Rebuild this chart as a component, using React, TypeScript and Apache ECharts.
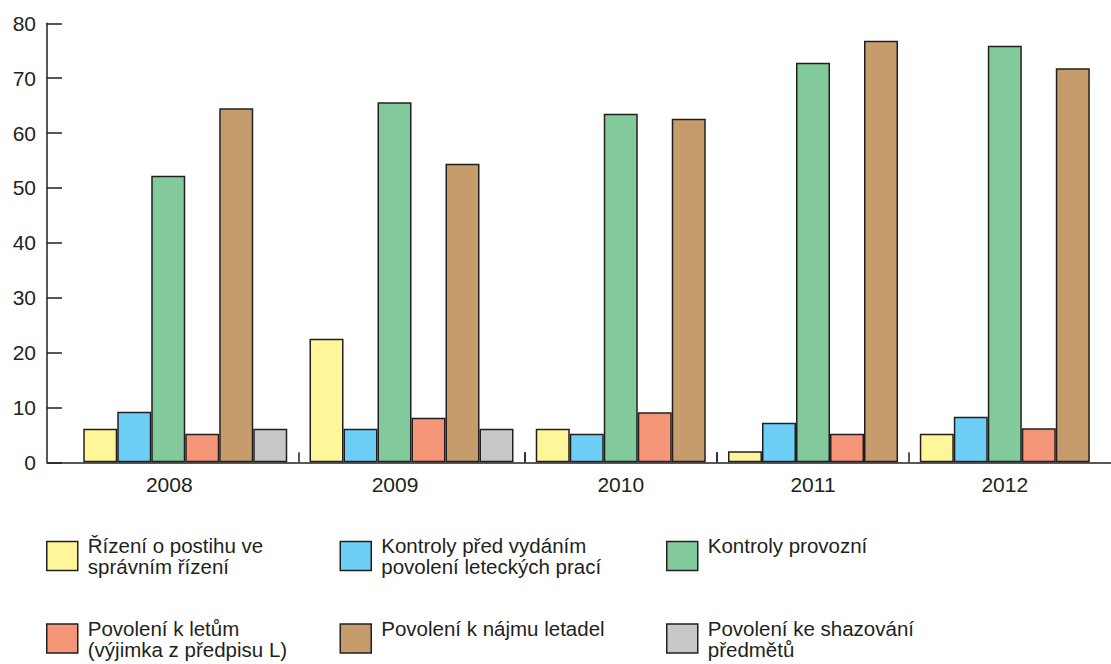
import React, { useEffect, useRef } from "react";
import * as echarts from "echarts";

const years = ["2008", "2009", "2010", "2011", "2012"];
const yTicks = [0, 10, 20, 30, 40, 50, 60, 70, 80];

const rizeniPostih = [6.1, 22.5, 6.1, 2.0, 5.2];
const kontrolyPred = [9.2, 6.1, 5.2, 7.2, 8.3];
const kontrolyProvozni = [52.2, 65.6, 63.5, 72.8, 75.9];
const povoleniLetum = [5.2, 8.1, 9.1, 5.2, 6.2];
const povoleniNajmu = [64.5, 54.4, 62.6, 76.8, 71.8];
const povoleniShazovani: (number | null)[] = [6.1, 6.1, null, null, null];

const seriesNames = [
  "Řízení o postihu ve správním řízení",
  "Kontroly před vydáním povolení leteckých prací",
  "Kontroly provozní",
  "Povolení k letům (výjimka z předpisu L)",
  "Povolení k nájmu letadel",
  "Povolení ke shazování předmětů",
];
const legendLabels = [
  "Řízení o postihu ve\nsprávním řízení",
  "Kontroly před vydáním\npovolení leteckých prací",
  "Kontroly provozní\n",
  "Povolení k letům\n(výjimka z předpisu L)",
  "Povolení k nájmu letadel\n",
  "Povolení ke shazování\npředmětů",
];
const seriesData: (number | null)[][] = [
  rizeniPostih,
  kontrolyPred,
  kontrolyProvozni,
  povoleniLetum,
  povoleniNajmu,
  povoleniShazovani,
];
const colors = ["#FFF599", "#6DCFF6", "#82CA9C", "#F69679", "#C69C6D", "#C7C8CA"];

const INK = "#231F20";
const FONT = 'Arial, "Liberation Sans", Helvetica, sans-serif';

export default function App() {
  const ref = useRef<HTMLDivElement>(null);

  useEffect(() => {
    if (!ref.current) return;
    const chart = echarts.init(ref.current, undefined, { renderer: "svg" });

    const top = 23.3;
    const bottom = 201.7;
    const yearLayout = [
      { left: 72, width: 226.5, ticks: false, shift: 32 },
      { left: 298.5, width: 226, ticks: true, shift: 33 },
      { left: 524.5, width: 192.5, ticks: true, shift: 0 },
      { left: 717, width: 192, ticks: true, shift: 0 },
      { left: 909, width: 191.6, ticks: false, shift: 0 },
    ];

    const grids: any[] = [{ left: 47, right: 0, top, bottom }];
    const xAxes: any[] = [
      {
        type: "category",
        gridIndex: 0,
        data: [""],
        axisLine: { show: true, lineStyle: { color: INK, width: 1.5 } },
        axisTick: { show: false },
        axisLabel: { show: false },
      },
    ];
    const yAxes: any[] = [
      {
        type: "value",
        gridIndex: 0,
        min: yTicks[0],
        max: yTicks[yTicks.length - 1],
        interval: 10,
        splitLine: { show: false },
        axisLine: { show: true, lineStyle: { color: INK, width: 1.5 } },
        axisTick: { show: true, inside: true, length: 15, lineStyle: { color: INK, width: 1.5 } },
        axisLabel: { color: INK, fontSize: 21, fontFamily: FONT, margin: 11 },
      },
    ];
    const series: any[] = [];

    years.forEach((yr, i) => {
      const L = yearLayout[i];
      const gi = i + 1;
      grids.push({ left: L.left, width: L.width, top, bottom });
      xAxes.push({
        type: "category",
        gridIndex: gi,
        data: [yr],
        axisLine: { show: false },
        axisTick: { show: L.ticks, inside: true, length: 10, lineStyle: { color: INK, width: 1.5 } },
        axisLabel: {
          color: INK,
          fontSize: 21,
          fontFamily: FONT,
          margin: 12,
          padding: [0, L.shift, 0, 0],
        },
      });
      yAxes.push({
        type: "value",
        gridIndex: gi,
        min: yTicks[0],
        max: yTicks[yTicks.length - 1],
        interval: 10,
        show: false,
      });
      seriesData.forEach((arr, si) => {
        const v = arr[i];
        if (v === null || v === undefined) return;
        series.push({
          type: "bar",
          name: seriesNames[si],
          xAxisIndex: gi,
          yAxisIndex: gi,
          data: [v],
          barWidth: 34,
          barGap: "0%",
          itemStyle: { color: colors[si], borderColor: INK, borderWidth: 1.5 },
        });
      });
    });

    const legendPos = [
      { left: 46, iconTop: 541.5 },
      { left: 339.5, iconTop: 541.5 },
      { left: 666, iconTop: 541.5 },
      { left: 46, iconTop: 624 },
      { left: 339.5, iconTop: 624 },
      { left: 666, iconTop: 624 },
    ];
    const legends = seriesNames.map((nm, i) => {
      const p = legendPos[i];
      return {
        show: true,
        data: [nm],
        left: p.left,
        top: p.iconTop - 6.5,
        padding: 0,
        itemWidth: 31,
        itemHeight: 29,
        icon: "rect",
        selectedMode: false,
        formatter: () => legendLabels[i],
        itemStyle: { color: colors[i], borderColor: INK, borderWidth: 1.5 },
        textStyle: {
          color: INK,
          fontSize: 20.5,
          fontFamily: FONT,
          lineHeight: 21,
          padding: [0, 0, 0, 5],
        },
      };
    });

    chart.setOption({
      animation: false,
      backgroundColor: "#ffffff",
      textStyle: { fontFamily: FONT },
      grid: grids,
      xAxis: xAxes,
      yAxis: yAxes,
      legend: legends,
      series,
    });

    return () => chart.dispose();
  }, []);

  return (
    <div
      ref={ref}
      style={{ position: "absolute", left: 0, top: 0, width: 1111, height: 664 }}
    />
  );
}
